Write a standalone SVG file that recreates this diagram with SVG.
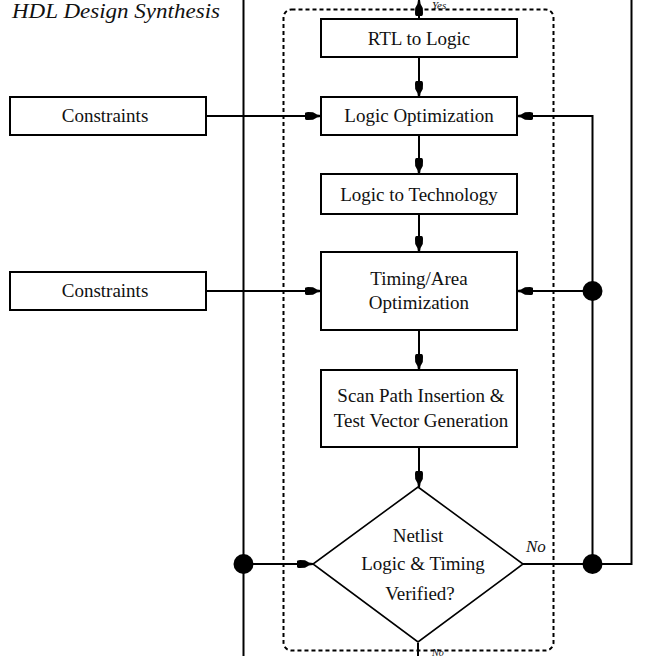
<svg xmlns="http://www.w3.org/2000/svg" width="666" height="656" viewBox="0 0 666 656">
<style>
.box{fill:#fff;stroke:#000;stroke-width:2}
.ln{fill:none;stroke:#000;stroke-width:2}
.arr{marker-end:url(#ah)}
.dash{fill:none;stroke:#000;stroke-width:2;stroke-dasharray:4 3}
.t{font-family:"Liberation Serif","Times New Roman",serif;font-size:19px;fill:#111;text-anchor:middle}
.it{font-family:"Liberation Serif","Times New Roman",serif;font-style:italic;fill:#111}
.dot{fill:#000}
</style>
<defs>
<marker id="ah" viewBox="-18 -5 19 10" refX="0" refY="0" markerWidth="19" markerHeight="10" markerUnits="userSpaceOnUse" orient="auto">
<path d="M-16,-2.5 Q-16,-4 -13,-4 L-8,-3.8 L-4,-1.6 L0,-1 L0,1 L-4,1.6 L-8,3.8 L-13,4 Q-16,4 -16,2.5 Z" fill="#000"/>
</marker>
</defs>
<text class="it" x="12" y="18" font-size="20" textLength="208" lengthAdjust="spacingAndGlyphs">HDL Design Synthesis</text>
<rect class="dash" x="283.5" y="9.5" width="270" height="641" rx="8"/>
<g id="connectors">
<line class="ln arr" x1="419" y1="19" x2="419" y2="0"/>
<line class="ln arr" x1="419" y1="57" x2="419" y2="97"/>
<line class="ln arr" x1="419" y1="135" x2="419" y2="174"/>
<line class="ln arr" x1="419" y1="214" x2="419" y2="252"/>
<line class="ln arr" x1="419" y1="330" x2="419" y2="370"/>
<line class="ln arr" x1="419" y1="447" x2="419" y2="487"/>
<line class="ln" x1="418" y1="643" x2="418" y2="656"/>
<line class="ln arr" x1="206" y1="116" x2="321" y2="116"/>
<line class="ln arr" x1="206" y1="291" x2="321" y2="291"/>
<line class="ln" x1="243.5" y1="0" x2="243.5" y2="656"/>
<line class="ln arr" x1="243.5" y1="564" x2="313" y2="564"/>
<line class="ln" x1="523" y1="564" x2="631.5" y2="564"/>
<line class="ln" x1="631.5" y1="565" x2="631.5" y2="0"/>
<polyline class="ln arr" points="592.5,564 592.5,116 517,116"/>
<line class="ln arr" x1="592.5" y1="291" x2="517" y2="291"/>
<circle class="dot" cx="592.5" cy="291" r="10"/>
<circle class="dot" cx="592.5" cy="564" r="10"/>
<circle class="dot" cx="243.5" cy="564" r="10"/>
<text class="it" x="432" y="8.5" font-size="11">Yes</text>
<text class="it" x="526" y="552" font-size="17">No</text>
<text class="it" x="432" y="655.5" font-size="10">No</text>
</g>
<g id="rtl">
<rect class="box" x="321" y="19" width="196" height="38"/>
<text class="t" x="419" y="45">RTL to Logic</text>
</g>
<g id="logicopt">
<rect class="box" x="321" y="97" width="196" height="38"/>
<text class="t" x="419" y="122">Logic Optimization</text>
</g>
<g id="logictech">
<rect class="box" x="321" y="174" width="196" height="40"/>
<text class="t" x="419" y="201">Logic to Technology</text>
</g>
<g id="timing">
<rect class="box" x="321" y="252" width="196" height="78"/>
<text class="t" x="419" y="285">Timing/Area</text>
<text class="t" x="419" y="309">Optimization</text>
</g>
<g id="scan">
<rect class="box" x="321" y="370" width="196" height="77"/>
<text class="t" x="421" y="402">Scan Path Insertion &amp;</text>
<text class="t" x="421" y="427">Test Vector Generation</text>
</g>
<g id="verify">
<polygon points="418,487 523,564 418,642 313,564" fill="#fff" stroke="#000" stroke-width="1.6"/>
<text class="t" x="418" y="542">Netlist</text>
<text class="t" x="423" y="570">Logic &amp; Timing</text>
<text class="t" x="420" y="600">Verified?</text>
</g>
<g id="constraints1">
<rect class="box" x="10" y="97" width="196" height="38"/>
<text class="t" x="105" y="122">Constraints</text>
</g>
<g id="constraints2">
<rect class="box" x="10" y="272" width="196" height="38"/>
<text class="t" x="105" y="297">Constraints</text>
</g>
</svg>
